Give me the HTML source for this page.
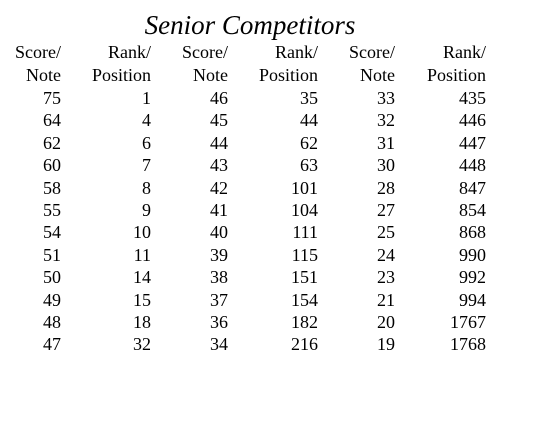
<!DOCTYPE html>
<html><head><meta charset="utf-8"><style>
html,body{margin:0;padding:0;background:#fff;}
#wrap{position:relative;width:560px;height:435px;font-family:"Liberation Serif",serif;color:#000;overflow:hidden;}
.t{position:absolute;white-space:nowrap;font-size:18px;line-height:18px;text-align:right;}
#title{position:absolute;left:0;width:500px;top:11px;text-align:center;font-style:italic;font-size:27px;line-height:28px;}
</style></head><body>
<div id="wrap">
<div id="title">Senior Competitors</div>
</div>
<script>
const rights=[61,151,228,318,395,486];
const head1=["Score/","Rank/","Score/","Rank/","Score/","Rank/"];
const head2=["Note","Position","Note","Position","Note","Position"];
const scores1=[75,64,62,60,58,55,54,51,50,49,48,47];
const ranks1=[1,4,6,7,8,9,10,11,14,15,18,32];
const scores2=[46,45,44,43,42,41,40,39,38,37,36,34];
const ranks2=[35,44,62,63,101,104,111,115,151,154,182,216];
const scores3=[33,32,31,30,28,27,25,24,23,21,20,19];
const ranks3=[435,446,447,448,847,854,868,990,992,994,1767,1768];
const cols=[scores1,ranks1,scores2,ranks2,scores3,ranks3];
const wrap=document.getElementById('wrap');
function put(txt,right,baseline,name){
  const d=document.createElement('div');
  d.className='t';
  d.textContent=txt;
  d.style.right=(560-right)+'px';
  d.style.top=(baseline-14)+'px';
  
  
  wrap.appendChild(d);
}
for(let c=0;c<6;c++){
  put(head1[c],rights[c],57,'column-header');
  put(head2[c],rights[c],80,'column-header');
  cols[c].forEach((v,i)=>put(String(v),rights[c],103+i*22.4,'table-cell'));
}
</script>
</body></html>
